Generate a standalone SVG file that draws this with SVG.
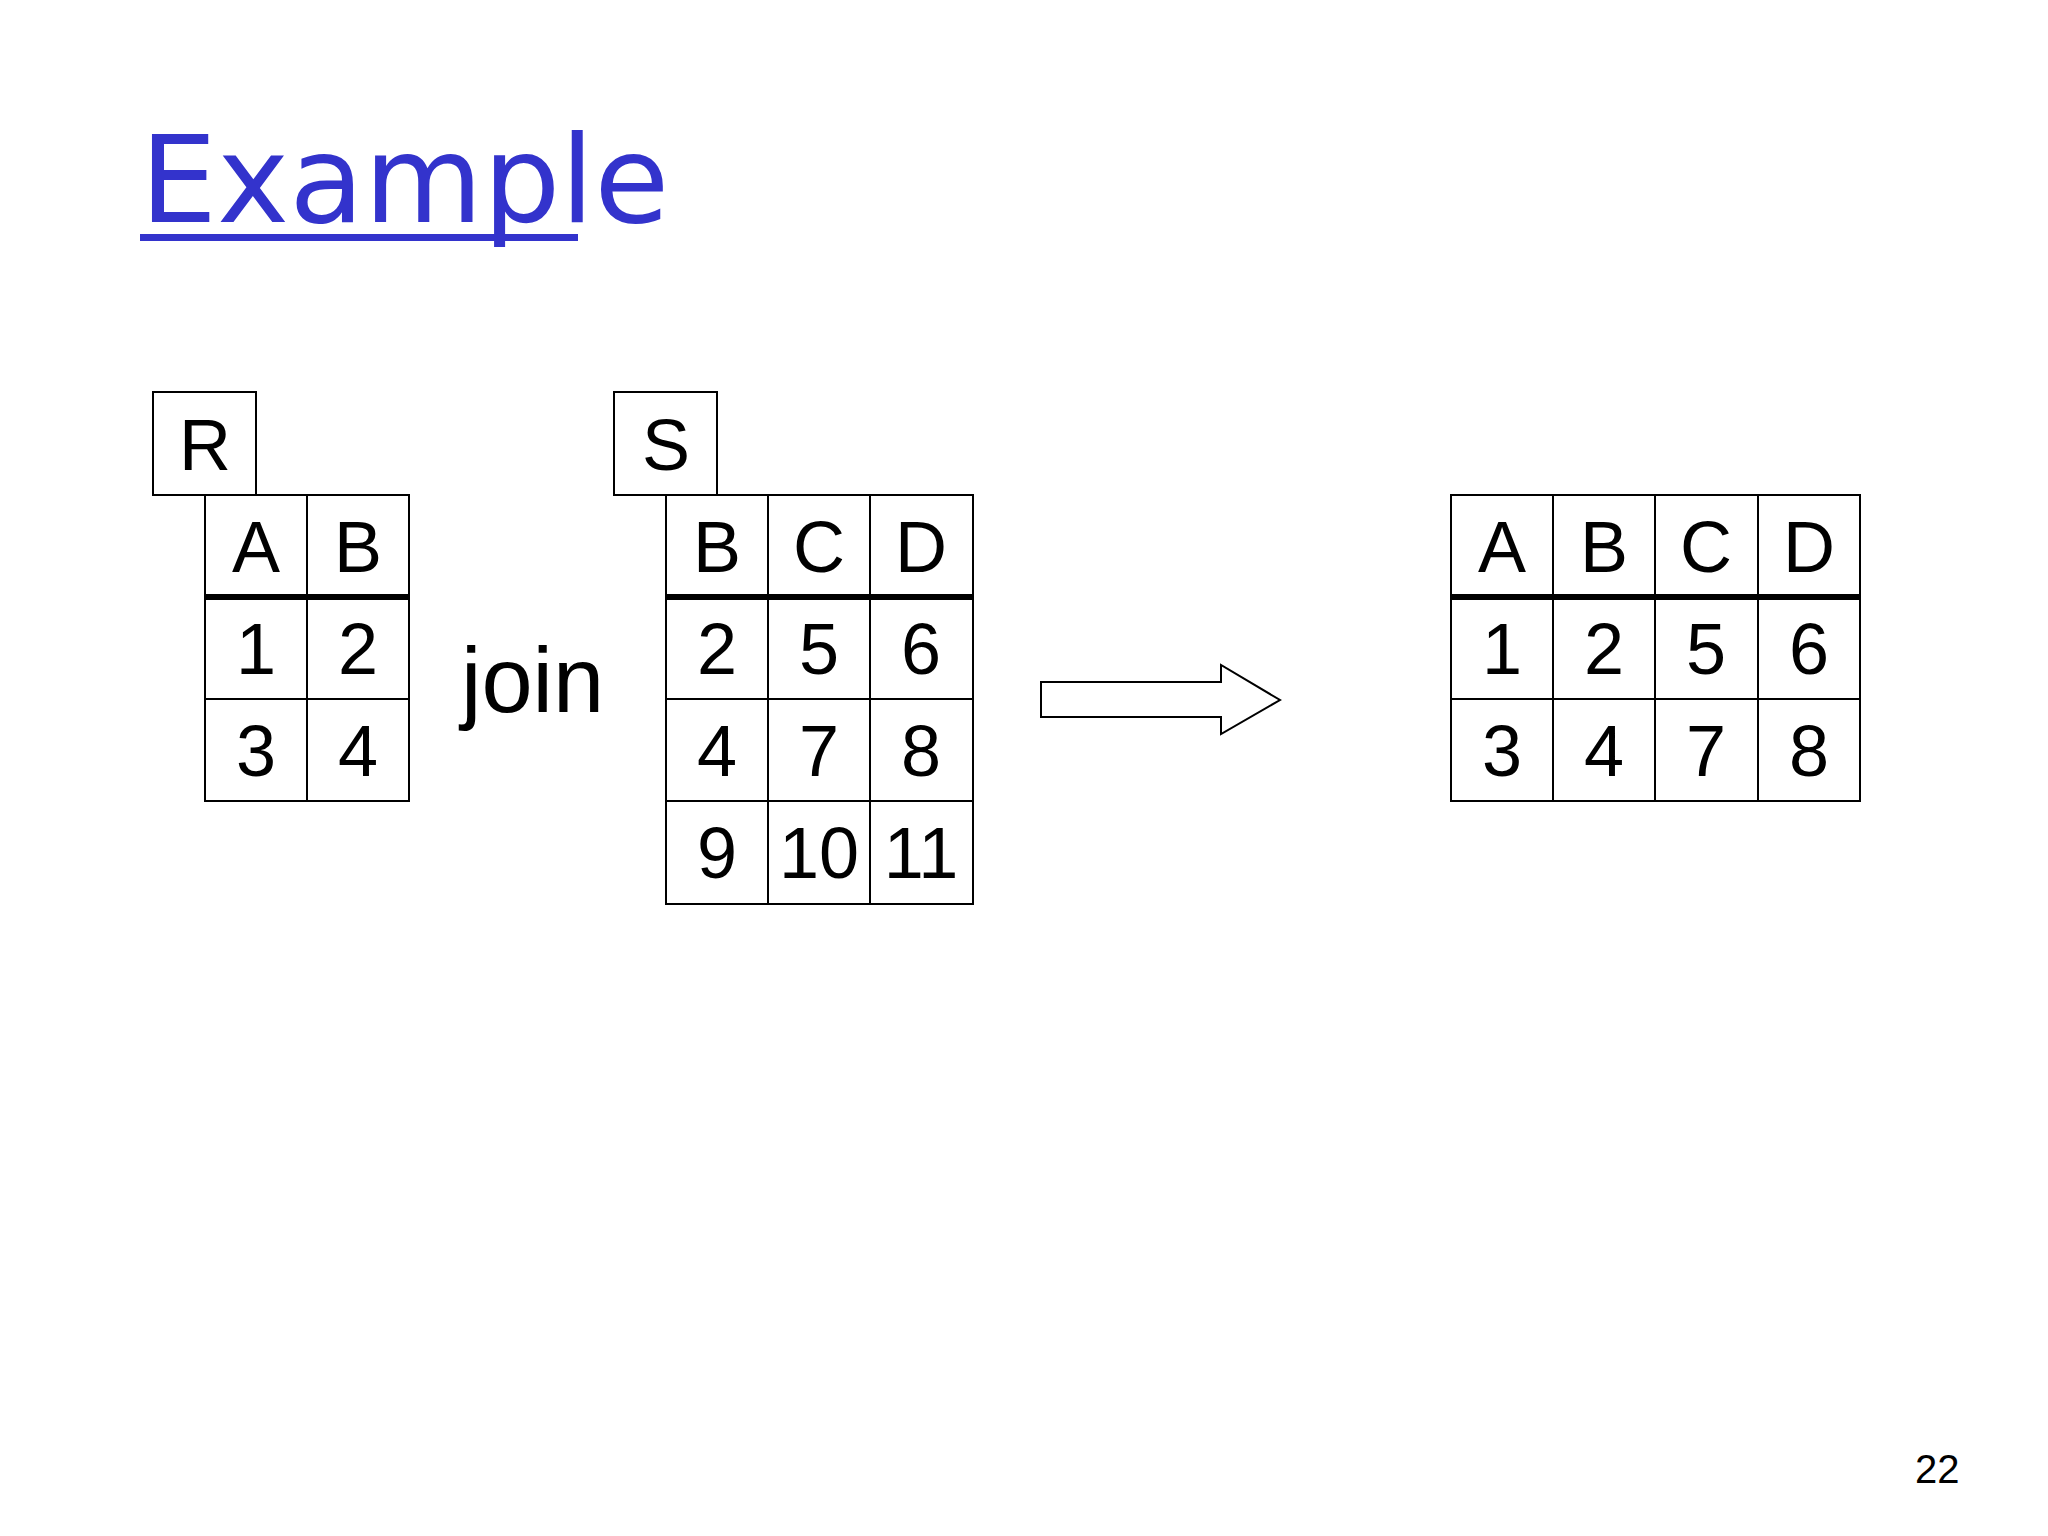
<svg xmlns="http://www.w3.org/2000/svg" width="2048" height="1536" viewBox="0 0 2048 1536">
<style>
.c{fill:#fff;stroke:#000;stroke-width:2}
.t{font-family:"Liberation Sans",Arial,sans-serif;font-size:72px;text-anchor:middle;fill:#000}
.h{stroke:#000;stroke-width:6}
</style>
<rect width="2048" height="1536" fill="#fff"/>
<g id="title"><text x="140" y="222" font-family="'DejaVu Sans',sans-serif" font-size="122" fill="#3333cc">Example</text>
<rect x="140" y="234" width="438" height="7" fill="#3333cc"/></g>
<g id="R">
<rect class="c" x="153" y="392" width="103" height="103"/><text class="t" x="205" y="470">R</text>
<rect class="c" x="205" y="495" width="204" height="306"/>
<path d="M307 495V801M205 699H409" stroke="#000" stroke-width="2"/>
<line class="h" x1="205" y1="597" x2="409" y2="597"/>
<text class="t" x="256" y="572">A</text><text class="t" x="358" y="572">B</text>
<text class="t" x="256" y="674">1</text><text class="t" x="358" y="674">2</text>
<text class="t" x="256" y="776">3</text><text class="t" x="358" y="776">4</text>
</g>
<g id="join"><text x="461" y="712" font-family="'Liberation Sans',Arial,sans-serif" font-size="92">join</text></g>
<g id="S">
<rect class="c" x="614" y="392" width="103" height="103"/><text class="t" x="666" y="470">S</text>
<rect class="c" x="666" y="495" width="307" height="409"/>
<path d="M768 495V904M870 495V904M666 699H973M666 801H973" stroke="#000" stroke-width="2"/>
<line class="h" x1="666" y1="597" x2="973" y2="597"/>
<text class="t" x="717" y="572">B</text><text class="t" x="819" y="572">C</text><text class="t" x="921" y="572">D</text>
<text class="t" x="717" y="674">2</text><text class="t" x="819" y="674">5</text><text class="t" x="921" y="674">6</text>
<text class="t" x="717" y="776">4</text><text class="t" x="819" y="776">7</text><text class="t" x="921" y="776">8</text>
<text class="t" x="717" y="878">9</text><text class="t" x="819" y="878">10</text><text class="t" x="921" y="878">11</text>
</g>
<g id="connectors"><path d="M1041 682H1221V665L1280 700L1221 734V717H1041Z" fill="#fff" stroke="#000" stroke-width="2"/></g>
<g id="result">
<rect class="c" x="1451" y="495" width="409" height="306"/>
<path d="M1553 495V801M1655 495V801M1758 495V801M1451 699H1860" stroke="#000" stroke-width="2"/>
<line class="h" x1="1451" y1="597" x2="1860" y2="597"/>
<text class="t" x="1502" y="572">A</text><text class="t" x="1604" y="572">B</text><text class="t" x="1706" y="572">C</text><text class="t" x="1809" y="572">D</text>
<text class="t" x="1502" y="674">1</text><text class="t" x="1604" y="674">2</text><text class="t" x="1706" y="674">5</text><text class="t" x="1809" y="674">6</text>
<text class="t" x="1502" y="776">3</text><text class="t" x="1604" y="776">4</text><text class="t" x="1706" y="776">7</text><text class="t" x="1809" y="776">8</text>
</g>
<text x="1915" y="1483" font-family="'Liberation Sans',Arial,sans-serif" font-size="40">22</text>
</svg>
